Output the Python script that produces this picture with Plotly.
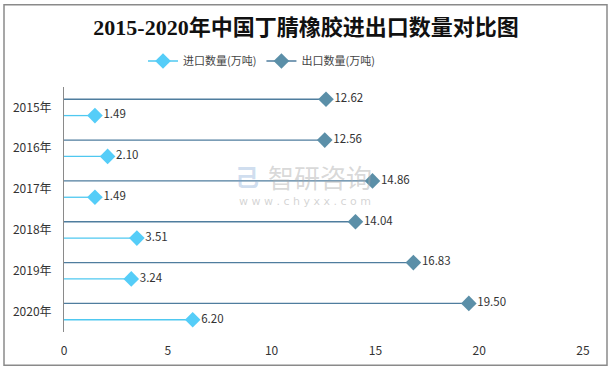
import plotly.graph_objects as go

years = ["2015年", "2016年", "2017年", "2018年", "2019年", "2020年"]
imports = [1.49, 2.10, 1.49, 3.51, 3.24, 6.20]
exports = [12.62, 12.56, 14.86, 14.04, 16.83, 19.50]
import_name = "进口数量(万吨)"
export_name = "出口数量(万吨)"
x_ticks = [0, 5, 10, 15, 20, 25]

IMP_LINE, IMP_MARK = "#4FC8F0", "#55CDF8"
EXP_LINE, EXP_MARK = "#4F7D9E", "#5B8FA8"
OFF = 0.2

W, H = 612, 371
L, R, T, B = 64, 29, 86.5, 38.5
PW, PH = W - L - R, H - T - B

def px(x):
    return (x - L) / PW

def py(y):
    return (H - B - y) / PH

fig = go.Figure()

def add_series(vals, sign, lc, mc, name):
    xs, ys = [], []
    for i, v in enumerate(vals):
        xs += [0, v, None]
        ys += [i + sign * OFF, i + sign * OFF, None]
    fig.add_trace(go.Scatter(x=xs, y=ys, mode="lines", line=dict(color=lc, width=1.3),
                             showlegend=False, hoverinfo="skip"))
    fig.add_trace(go.Scatter(x=vals, y=[i + sign * OFF for i in range(len(vals))],
                             mode="markers+text", marker=dict(symbol="diamond", size=12, color=mc),
                             text=[f"{v:.2f}" for v in vals], textposition="middle right",
                             textfont=dict(size=11.5, color="#333333", family="Noto Sans CJK SC"),
                             showlegend=False, cliponaxis=False))
    fig.add_trace(go.Scatter(x=[None], y=[None], mode="lines+markers", name=name,
                             line=dict(color=lc, width=1.3),
                             marker=dict(symbol="diamond", size=12, color=mc)))

add_series(imports, +1, IMP_LINE, IMP_MARK, import_name)
add_series(exports, -1, EXP_LINE, EXP_MARK, export_name)

# outer border
fig.add_shape(type="rect", xref="paper", yref="paper",
              x0=px(4), x1=px(607), y0=py(366), y1=py(4),
              line=dict(color="#8a8a8a", width=1.5), layer="below")

# watermark
fig.add_annotation(text="智研咨询", xref="paper", yref="paper", x=px(320), y=py(176),
                   showarrow=False, font=dict(size=26, color="rgba(170,170,170,0.45)",
                                               family="Noto Sans CJK SC"))
fig.add_annotation(text="w w w . c h y x x . c o m", xref="paper", yref="paper",
                   x=px(305), y=py(201), showarrow=False,
                   font=dict(size=11, color="rgba(170,170,170,0.5)", family="DejaVu Sans"))
fig.add_annotation(text="<b>己</b>", xref="paper", yref="paper", x=px(247), y=py(175),
                   showarrow=False, font=dict(size=24, color="rgba(120,160,210,0.35)",
                                               family="Noto Sans CJK SC"))

fig.update_layout(
    width=W, height=H, margin=dict(l=L, r=R, t=T, b=B),
    paper_bgcolor="white", plot_bgcolor="white",
    title=dict(text="<b>2015-2020年中国丁腈橡胶进出口数量对比图</b>", x=0.5, xanchor="center",
               y=1 - 27 / H, yanchor="middle",
               font=dict(size=22, color="#111111", family="Liberation Serif, Noto Sans CJK SC")),
    legend=dict(orientation="h", x=px(143), xanchor="left", y=1 - 61 / H, yref="container",
                yanchor="middle", font=dict(size=11, color="#444444", family="Noto Sans CJK SC"),
                itemwidth=30, traceorder="normal"),
    xaxis=dict(range=[0, 25], tickvals=x_ticks, showgrid=False, zeroline=False, showline=False,
               ticks="outside", ticklen=8, tickcolor="rgba(0,0,0,0)",
               tickfont=dict(size=12, color="#333333", family="Noto Sans CJK SC")),
    yaxis=dict(range=[5.5, -0.5], tickvals=list(range(len(years))), ticktext=years,
               showgrid=False, zeroline=False, showline=True, linecolor="#8a8a8a", linewidth=1,
               ticks="outside", ticklen=9, tickcolor="rgba(0,0,0,0)",
               tickfont=dict(size=12, color="#333333", family="Noto Sans CJK SC")),
)

fig.write_html("out.html", config={"displayModeBar": False},
               post_script="document.body.style.margin='0px';")
